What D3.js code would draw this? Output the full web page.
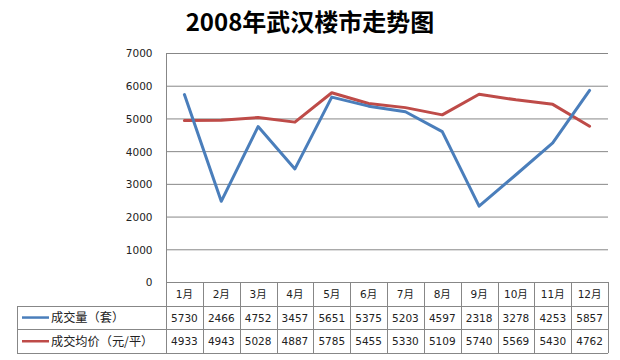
<!DOCTYPE html>
<html><head><meta charset="utf-8">
<script src="https://cdn.jsdelivr.net/npm/d3@7"></script>
<style>body{margin:0;background:#fff;} svg{display:block;}</style>
</head><body>
<svg id="c" width="620" height="360"></svg>
<script>
const title = "2008年武汉楼市走势图";
const months = ["1月","2月","3月","4月","5月","6月","7月","8月","9月","10月","11月","12月"];
const seriesNames = ["成交量（套）","成交均价（元/平）"];
const volume = [5730,2466,4752,3457,5651,5375,5203,4597,2318,3278,4253,5857];
const price = [4933,4943,5028,4887,5785,5455,5330,5109,5740,5569,5430,4762];
const yTicks = [0,1000,2000,3000,4000,5000,6000,7000];
const colors = ["#4A7EBB","#BE4B48"];

const svg = d3.select("#c");
const L = 166, R = 608, T = 53, B = 282;
const rowH = 23.7;
const x = d3.scaleBand().domain(months).range([L, R]).padding(0);
const y = d3.scaleLinear().domain([0, 7000]).range([B, T]);
const grid = "#878787";
const numFont = "'DejaVu Sans','Noto Sans CJK SC',sans-serif";

svg.append("text").attr("x", 310).attr("y", 31).attr("text-anchor", "middle")
  .attr("font-family", "'Noto Sans CJK SC',sans-serif").attr("font-weight", "bold")
  .attr("font-size", 24).attr("fill", "#000").text(title);

// gridlines
svg.append("g").selectAll("line").data(yTicks).join("line")
  .attr("x1", L).attr("x2", R).attr("y1", d => y(d) + 0.5).attr("y2", d => y(d) + 0.5)
  .attr("stroke", grid).attr("stroke-width", 1);

// y axis
const yAxis = d3.axisLeft(y).tickValues(yTicks).tickSize(0).tickPadding(14).tickFormat(d3.format("d"));
const ga = svg.append("g").attr("transform", `translate(${L + 0.5},0.5)`).call(yAxis);
ga.select(".domain").remove();
ga.selectAll("text").attr("font-family", numFont).attr("font-size", 10.5).attr("fill", "#222");
svg.append("line").attr("x1", L + 0.5).attr("x2", L + 0.5).attr("y1", T).attr("y2", B + 3 * rowH)
  .attr("stroke", grid);

// data table
const tbl = svg.append("g");
const rows = [B, B + rowH, B + 2 * rowH, B + 3 * rowH];
tbl.selectAll("line.h").data(rows.slice(1)).join("line")
  .attr("x1", 17).attr("x2", R).attr("y1", d => Math.round(d) + 0.5).attr("y2", d => Math.round(d) + 0.5)
  .attr("stroke", grid);
tbl.selectAll("line.v").data(months).join("line")
  .attr("x1", d => Math.round(x(d) + x.bandwidth()) + 0.5).attr("x2", d => Math.round(x(d) + x.bandwidth()) + 0.5)
  .attr("y1", B).attr("y2", B + 3 * rowH).attr("stroke", grid);
tbl.append("line").attr("x1", 17.5).attr("x2", 17.5).attr("y1", Math.round(B + rowH)).attr("y2", Math.round(B + 3 * rowH) + 0.5).attr("stroke", grid);

const cx = d => x(d) + x.bandwidth() / 2;
tbl.selectAll("text.m").data(months).join("text")
  .attr("x", cx).attr("y", B + rowH / 2 + 4).attr("text-anchor", "middle")
  .attr("font-family", numFont).attr("font-size", 10.5).attr("fill", "#222").text(d => d);
[volume, price].forEach((vals, r) => {
  tbl.selectAll("text.v" + r).data(vals).join("text")
    .attr("x", (d, i) => cx(months[i])).attr("y", B + rowH * (r + 1) + rowH / 2 + 4)
    .attr("text-anchor", "middle").attr("font-family", numFont).attr("font-size", 10.5)
    .attr("fill", "#222").text(d => d);
  const ly = B + rowH * (r + 1) + rowH / 2;
  tbl.append("line").attr("x1", 22).attr("x2", 49).attr("y1", ly).attr("y2", ly)
    .attr("stroke", colors[r]).attr("stroke-width", 2.5);
  tbl.append("text").attr("x", 51).attr("y", ly + 4.5)
    .attr("font-family", "'Noto Sans CJK SC',sans-serif").attr("font-size", 12.2).attr("fill", "#222")
    .text(seriesNames[r]);
});

// lines
const line = d3.line().x((d, i) => cx(months[i])).y(d => y(d));
[price, volume].forEach((vals, k) => {
  svg.append("path").datum(vals).attr("d", line).attr("fill", "none")
    .attr("stroke", colors[k === 0 ? 1 : 0]).attr("stroke-width", 3)
    .attr("stroke-linejoin", "round").attr("stroke-linecap", "round");
});
</script>
</body></html>
